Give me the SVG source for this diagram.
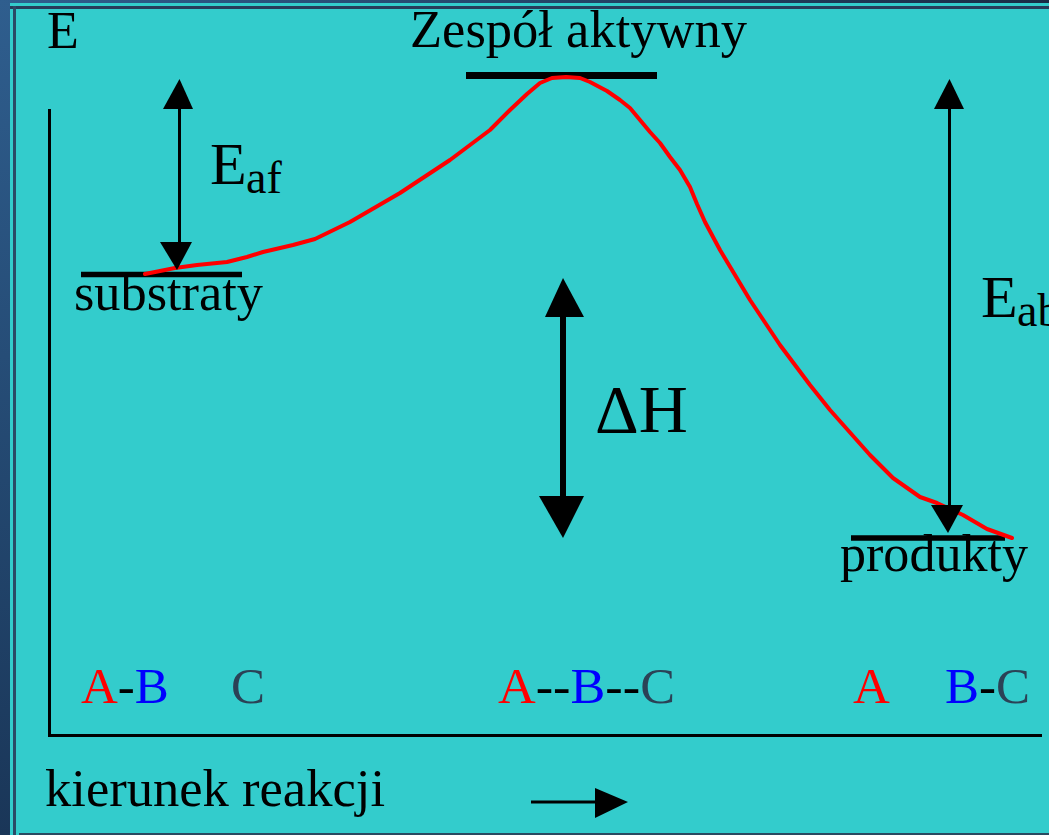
<svg xmlns="http://www.w3.org/2000/svg" width="1049" height="835" viewBox="0 0 1049 835">
<defs>
<linearGradient id="gl" x1="0" y1="0" x2="0" y2="1">
<stop offset="0" stop-color="#2f5e8e"/>
<stop offset="1" stop-color="#1a3658"/>
</linearGradient>
<linearGradient id="gt" x1="0" y1="0" x2="1" y2="0">
<stop offset="0" stop-color="#2f5e8e"/>
<stop offset="1" stop-color="#1a2c46"/>
</linearGradient>
<style>
text{font-family:"Liberation Serif","Times New Roman",serif;fill:#000}
.lbl{font-size:52px}
.chem{font-size:51px}
.lvl{stroke:#000;stroke-width:5.5;fill:none}
.ln{stroke:#000;stroke-width:3;fill:none}
.head{fill:#000}
.r{fill:#ff0000}
.b{fill:#0000ff}
.c{fill:#2b4256}
</style>
</defs>
<rect x="0" y="0" width="1049" height="835" fill="#33cccc"/>
<rect x="0" y="0" width="10" height="835" fill="url(#gl)"/>
<rect x="0" y="0" width="1049" height="3" fill="url(#gt)"/>
<rect x="10" y="6" width="1039" height="3" fill="#283c5a"/>
<rect x="13" y="6" width="3" height="829" fill="#2a4a66"/>
<rect x="19" y="833" width="1030" height="2" fill="#2a4a60"/>

<g id="axes">
<path class="ln" d="M49.5,109 V735.5 H1042"/>
<text class="lbl" x="47" y="48">E</text>
<text class="lbl" x="45" y="806" textLength="340" lengthAdjust="spacingAndGlyphs">kierunek reakcji</text>
<line class="ln" x1="531" y1="802" x2="597" y2="802"/>
<polygon class="head" points="595,788 628,802 595,818"/>
</g>

<g id="substraty">
<line class="lvl" x1="81" y1="274.5" x2="242" y2="274.5"/>
<text class="lbl" x="74" y="310" textLength="189" lengthAdjust="spacingAndGlyphs">substraty</text>
</g>

<g id="zespol">
<line class="lvl" x1="466" y1="75.5" x2="657" y2="75.5" style="stroke-width:7"/>
<text class="lbl" x="410" y="47" textLength="337" lengthAdjust="spacingAndGlyphs">Zespół aktywny</text>
</g>

<g id="produkty">
<line class="lvl" x1="851" y1="538" x2="1005" y2="538"/>
<text class="lbl" x="840" y="571" textLength="188" lengthAdjust="spacingAndGlyphs">produkty</text>
</g>

<g id="labels-chem">
<text class="chem" x="81" y="703"><tspan class="r">A</tspan>-<tspan class="b">B</tspan></text>
<text class="chem c" x="231" y="703">C</text>
<text class="chem" x="498" y="703" textLength="177" lengthAdjust="spacingAndGlyphs"><tspan class="r">A</tspan>--<tspan class="b">B</tspan>--<tspan class="c">C</tspan></text>
<text class="chem r" x="853" y="703">A</text>
<text class="chem" x="945" y="703"><tspan class="b">B</tspan>-<tspan class="c">C</tspan></text>
</g>

<g id="connectors">
<polyline fill="none" stroke="#ff0000" stroke-width="4" stroke-linejoin="round" stroke-linecap="round" points="145,274 175,268 197,265 227,262 247,257 263,252 293,245 315,239 350,222 400,193 450,160 490,130 510,110 527,94 540,83 552,78 566,77 580,78 590,82 607,91 620,100 630,108 640,120 650,132 660,143 670,157 680,170 690,187 697,204 705,222 720,250 750,300 780,345 810,385 830,410 870,455 893,478 920,497 937,503 963,515 987,529 1012,538"/>

<g id="arrow-Eaf">
<line class="ln" x1="179.5" y1="107" x2="179.5" y2="244"/>
<polygon class="head" points="179.5,79 163,109 193,109"/>
<polygon class="head" points="160,242 192,242 177,270"/>
<text x="210" y="184" style="font-size:60px">E</text>
<text x="246" y="193" style="font-size:46px">af</text>
</g>

<g id="arrow-Eab">
<line class="ln" x1="949.5" y1="107" x2="949.5" y2="507"/>
<polygon class="head" points="949.5,79 934,109 964,109"/>
<polygon class="head" points="931,505 963,505 948,533"/>
<text x="981" y="317" style="font-size:60px">E</text>
<text x="1017" y="326" style="font-size:46px">ab</text>
</g>

<g id="arrow-dH">
<line x1="563" y1="314" x2="563" y2="498" stroke="#000" stroke-width="6"/>
<polygon class="head" points="563,278 545,317 584,317"/>
<polygon class="head" points="539,496 584,496 563,538"/>
<text x="595" y="432" style="font-size:68px">ΔH</text>
</g>
</g>
</svg>
